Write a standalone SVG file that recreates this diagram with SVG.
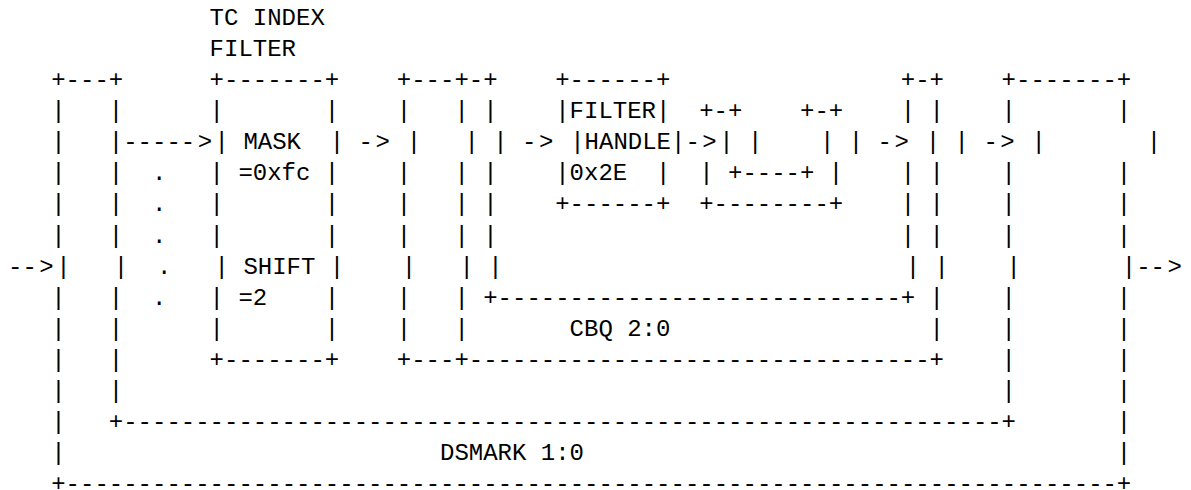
<svg xmlns="http://www.w3.org/2000/svg" width="1191" height="490" viewBox="0 0 1191 490" xml:space="preserve">
<style>
text{font-family:"Liberation Mono","Courier New",monospace;font-size:24px;fill:#000;white-space:pre}
</style>
<rect width="1191" height="490" fill="#fff"/>
<g id="dsmark">
<text x="51.2" y="87">+---+</text><text x="1001.6" y="87">+-------+</text>
<text x="51.2" y="118">|   |</text><text x="1001.6" y="118">|       |</text>
<text x="51.2" y="149">|   |</text><text x="1031.6" y="149">|       |</text>
<text x="51.2" y="180">|   |</text><text x="1001.6" y="180">|       |</text>
<text x="51.2" y="211">|   |</text><text x="1001.6" y="211">|       |</text>
<text x="51.2" y="242.5">|   |</text><text x="1001.6" y="242.5">|       |</text>
<text x="56.2" y="273.5">|   |</text><text x="1006.6" y="273.5">|       |</text>
<text x="51.2" y="304.5">|   |</text><text x="1001.6" y="304.5">|       |</text>
<text x="51.2" y="335.5">|   |</text><text x="1001.6" y="335.5">|       |</text>
<text x="51.2" y="367">|   |</text><text x="1001.6" y="367">|       |</text>
<text x="51.2" y="398">|   |</text><text x="1001.6" y="398">|       |</text>
<text x="51.2" y="429">|   +</text><text x="123.2" y="429">-------------------------------------------------------------</text><text x="1001.6" y="429">+       |</text>
<text x="51.2" y="460">|</text><text x="440" y="460">DSMARK 1:0</text><text x="1116.8" y="460">|</text>
<text x="51.2" y="491">+</text><text x="65.6" y="491">-------------------------------------------------------------------------</text><text x="1116.8" y="491">+</text>
</g>
<g id="cbq">
<text x="396.8" y="87">+---+-+</text><text x="900.8" y="87">+-+</text>
<text x="396.8" y="118">|   | |</text><text x="900.8" y="118">| |</text>
<text x="406.8" y="149">|   | |</text><text x="925.8" y="149">| |</text>
<text x="396.8" y="180">|   | |</text><text x="900.8" y="180">| |</text>
<text x="396.8" y="211">|   | |</text><text x="900.8" y="211">| |</text>
<text x="396.8" y="242.5">|   | |</text><text x="900.8" y="242.5">| |</text>
<text x="401.8" y="273.5">|   | |</text><text x="905.8" y="273.5">| |</text>
<text x="396.8" y="304.5">|   | +</text><text x="497.6" y="304.5">----------------------------</text><text x="900.8" y="304.5">+ |</text>
<text x="396.8" y="335.5">|   |</text><text x="569.6" y="335.5">CBQ 2:0</text><text x="929.6" y="335.5">|</text>
<text x="396.8" y="367">+---+</text><text x="468.8" y="367">--------------------------------</text><text x="929.6" y="367">+</text>
</g>
<g id="tc-index-filter">
<text x="209.6" y="25">TC INDEX</text>
<text x="209.6" y="56">FILTER</text>
<text x="209.6" y="87">+-------+</text>
<text x="209.6" y="118">|       |</text>
<text x="214.6" y="149">| MASK  |</text>
<text x="209.6" y="180">| =0xfc |</text>
<text x="209.6" y="211">|       |</text>
<text x="209.6" y="242.5">|       |</text>
<text x="214.6" y="273.5">| SHIFT |</text>
<text x="209.6" y="304.5">| =2    |</text>
<text x="209.6" y="335.5">|       |</text>
<text x="209.6" y="367">+-------+</text>
</g>
<g id="filter-handle">
<text x="555.2" y="87">+------+</text>
<text x="555.2" y="118">|FILTER|</text>
<text x="570.2" y="149">|HANDLE|</text>
<text x="555.2" y="180">|0x2E  |</text>
<text x="555.2" y="211">+------+</text>
</g>
<g id="queue">
<text x="699.2" y="118">+-+    +-+</text>
<text x="719.2" y="149">| |    | |</text>
<text x="699.2" y="180">| +----+ |</text>
<text x="699.2" y="211">+--------+</text>
</g>
<g id="connectors">
<text x="123.2" y="149">-----<tspan dx="2.5">&gt;</tspan></text>
<text x="358.6" y="149">-<tspan dx="2.5">&gt;</tspan></text>
<text x="522" y="149">-<tspan dx="2.5">&gt;</tspan></text>
<text x="685.4" y="149">-<tspan dx="2.5">&gt;</tspan></text>
<text x="877.6" y="149">-<tspan dx="2.5">&gt;</tspan></text>
<text x="983.4" y="149">-<tspan dx="2.5">&gt;</tspan></text>
<text x="8" y="273.5">--<tspan dx="2.5">&gt;</tspan></text>
<text x="1136.2" y="273.5">--<tspan dx="2.5">&gt;</tspan></text>
<text x="152" y="180">.</text>
<text x="152" y="211">.</text>
<text x="152" y="242.5">.</text>
<text x="157" y="273.5">.</text>
<text x="152" y="304.5">.</text>
</g>
</svg>
